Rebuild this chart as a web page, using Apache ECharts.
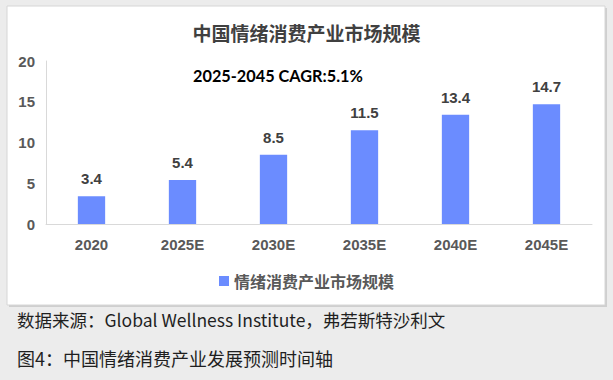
<!DOCTYPE html>
<html>
<head>
<meta charset="utf-8">
<script src="https://cdn.jsdelivr.net/npm/echarts@6/dist/echarts.min.js"></script>
<style>
html,body{margin:0;padding:0;background:#ececec;}
#c{width:613px;height:380px;}
</style>
</head>
<body>
<div id="c"></div>
<script>
const categories = ["2020", "2025E", "2030E", "2035E", "2040E", "2045E"];
const marketSize = [3.4, 5.4, 8.5, 11.5, 13.4, 14.7];
const seriesName = "情绪消费产业市场规模";
const chartTitle = "中国情绪消费产业市场规模";
const cagrNote = "2025-2045 CAGR:5.1%";
const sourceNote = "数据来源：Global Wellness Institute，弗若斯特沙利文";
const figureCaption = "图4：中国情绪消费产业发展预测时间轴";

const chart = echarts.init(document.getElementById('c'), null, {renderer: 'svg'});
const cjk = '"Noto Sans CJK SC", "Liberation Sans", sans-serif';
const arial = '"Liberation Sans", Arial, sans-serif';

chart.setOption({
  backgroundColor: '#ececec',
  animation: false,
  graphic: [
    {type: 'rect', z: -10, shape: {x: 9, y: 8, width: 598, height: 299},
     style: {fill: '#cfcfcf'}},
    {type: 'rect', z: -9, shape: {x: 7, y: 6, width: 598, height: 299},
     style: {fill: '#ffffff', stroke: '#d6d6d6', lineWidth: 1}},
    {type: 'text', left: 193, top: 67,
     style: {text: cagrNote, font: 'bold 16.3px Lato, "Open Sans", sans-serif', fill: '#000000'}},
    {type: 'text', left: 17, top: 311,
     style: {text: sourceNote, font: '17.5px ' + cjk, fill: '#1f1f1f'}},
    {type: 'text', left: 17, top: 349,
     style: {text: figureCaption, font: '18px ' + cjk, fill: '#1f1f1f'}}
  ],
  title: {
    text: chartTitle,
    left: 'center',
    top: 18,
    textStyle: {fontFamily: cjk, fontSize: 19, fontWeight: 'bold', color: '#404040'}
  },
  legend: {
    data: [seriesName],
    left: 'center',
    top: 268,
    icon: 'rect',
    itemWidth: 10,
    itemHeight: 10,
    itemGap: 8,
    textStyle: {fontFamily: cjk, fontSize: 16, fontWeight: 'bold', color: '#595959'}
  },
  grid: {left: 46, right: 21, top: 61, bottom: 156, containLabel: false},
  xAxis: {
    type: 'category',
    data: categories,
    axisLine: {lineStyle: {color: '#d9d9d9', width: 1}},
    axisTick: {show: false},
    axisLabel: {fontFamily: arial, fontSize: 15, fontWeight: 'bold', color: '#595959', margin: 13}
  },
  yAxis: {
    type: 'value',
    min: 0, max: 20, interval: 5,
    axisLine: {show: true, lineStyle: {color: '#d9d9d9', width: 1}},
    axisTick: {show: false},
    splitLine: {show: false},
    axisLabel: {fontFamily: arial, fontSize: 15, fontWeight: 'bold', color: '#595959', margin: 11}
  },
  series: [{
    name: seriesName,
    type: 'bar',
    data: marketSize,
    barWidth: '30%',
    itemStyle: {color: '#6b8cff'},
    label: {
      show: true,
      position: 'top',
      distance: 10,
      fontFamily: arial,
      fontSize: 15,
      fontWeight: 'bold',
      color: '#404040'
    }
  }]
});
</script>
</body>
</html>
